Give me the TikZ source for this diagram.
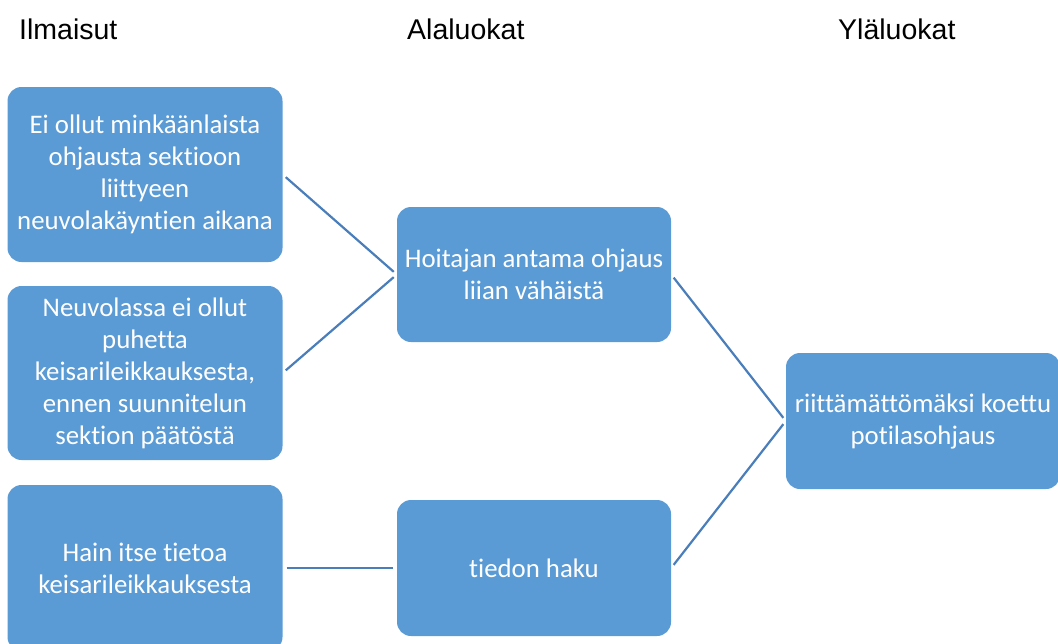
\documentclass[tikz,border=0pt]{standalone}
\usepackage{fontspec}
\setmainfont{Carlito}[Ligatures={NoCommon}]
\newfontfamily\hdrfont{Liberation Sans}
\definecolor{boxblue}{HTML}{5B9BD5}
\definecolor{lineblue}{HTML}{4A7EBB}
\begin{document}
\begin{tikzpicture}[x=1pt,y=-1pt,
  card/.style={fill=boxblue, draw=none, rounded corners=14pt, text=white, align=center,
    font=\fontsize{26.8}{32}\selectfont, inner sep=0pt},
  hdr/.style={font=\hdrfont\fontsize{28.5}{34}\selectfont, anchor=base west, inner sep=0pt, text=black},
  link/.style={draw=lineblue, line width=2.2pt, shorten <=4pt, shorten >=4pt}]
\useasboundingbox (0,0) rectangle (1058,643);
\clip (0,0) rectangle (1058,643);
\node[hdr] (h1) at (19,39) {Ilmaisut};
\node[hdr] (h2) at (407,39) {Alaluokat};
\node[hdr] (h3) at (838,39) {Yläluokat};
\node[card, minimum width=275pt, minimum height=175pt] (b1) at (145,174.5)
  {Ei ollut minkäänlaista\\ohjausta sektioon\\liittyeen\\neuvolakäyntien aikana};
\node[card, minimum width=275pt, minimum height=174pt] (b2) at (145,373)
  {Neuvolassa ei ollut\\puhetta\\keisarileikkauksesta,\\ennen suunnitelun\\sektion päätöstä};
\node[card, minimum width=275pt, minimum height=166pt] (b3) at (145,568)
  {Hain itse tietoa\\keisarileikkauksesta};
\node[card, minimum width=274pt, minimum height=135pt] (b4) at (534,274.5)
  {Hoitajan antama ohjaus\\liian vähäistä};
\node[card, minimum width=274pt, minimum height=136pt] (b5) at (534,568)
  {tiedon haku};
\node[card, minimum width=274pt, minimum height=136pt] (b6) at (923,421)
  {riittämättömäksi koettu\\potilasohjaus};
\draw[link] (b1.east) -- (b4.west);
\draw[link] (b2.east) -- (b4.west);
\draw[link] (b3.east) -- (b5.west);
\draw[link] (b4.east) -- (b6.west);
\draw[link] (b5.east) -- (b6.west);
\end{tikzpicture}
\end{document}
